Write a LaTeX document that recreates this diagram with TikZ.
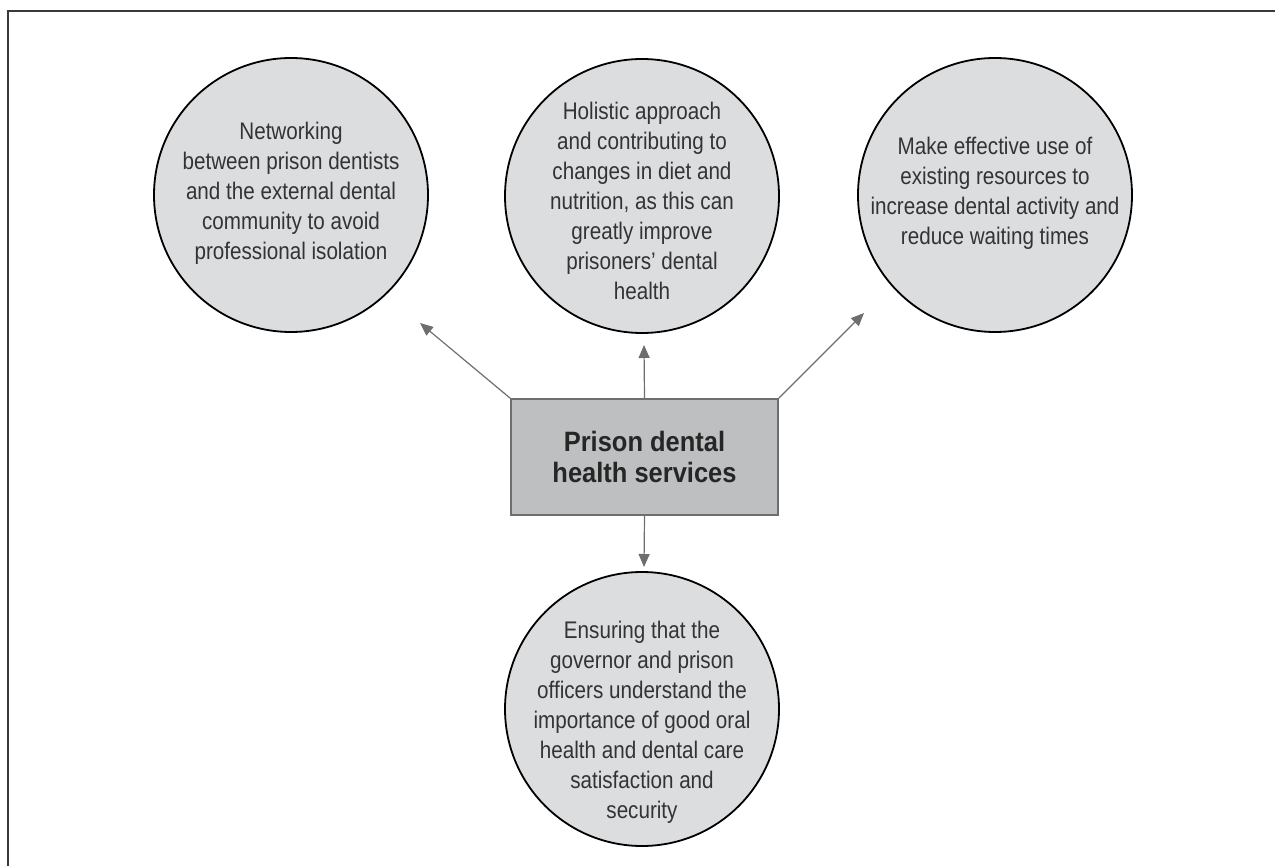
\documentclass[tikz,border=0pt]{standalone}
\usepackage{fontspec}
\setmainfont{Liberation Sans}[FakeStretch=0.86]
\newfontfamily\titlefont{Liberation Sans}[FakeStretch=0.91]
\usetikzlibrary{arrows.meta}
\definecolor{txt}{HTML}{333333}
\definecolor{circfill}{HTML}{DCDDDF}
\definecolor{boxfill}{HTML}{BEBFC1}
\definecolor{boxline}{HTML}{6E6E70}
\definecolor{arrcol}{HTML}{6D6E70}
\definecolor{framecol}{HTML}{3A3A3A}
\tikzset{
  bubble/.style={circle, draw=black, line width=0.9pt, fill=circfill, minimum size=137pt, inner sep=0pt},
  bubbletext/.style={align=center, text=txt, font=\fontsize{12}{15}\selectfont, inner sep=0pt},
  centrebox/.style={rectangle, draw=boxline, line width=0.8pt, fill=boxfill, minimum width=133.5pt, minimum height=58pt, align=center, text=black!85, font=\titlefont\bfseries\fontsize{14}{15.5}\selectfont},
  arr/.style={draw=arrcol, line width=0.6pt, -{Triangle[length=6.5pt,width=5.5pt]}, color=arrcol}
}
\begin{document}
\begin{tikzpicture}[x=0.5pt,y=-0.5pt]
\useasboundingbox (0,0) rectangle (1275,866);
\draw[framecol, line width=0.8pt] (8,866) -- (8,11) -- (1275,11);

\node[bubble] (cl) at (291,195) {};
\node[bubble] (cm) at (642,196) {};
\node[bubble] (cr) at (995,195) {};
\node[bubble] (cb) at (642,709) {};

\node[bubbletext] (tl) at (291,193) {Networking\\between prison dentists\\and the external dental\\community to avoid\\professional isolation};
\node[bubbletext] (tm) at (642,201) {Holistic approach\\and contributing to\\changes in diet and\\nutrition, as this can\\greatly improve\\prisoners’ dental\\health};
\node[bubbletext] (tr) at (995,193) {Make effective use of\\existing resources to\\increase dental activity and\\reduce waiting times};
\node[bubbletext] (tb) at (642,722) {Ensuring that the\\governor and prison\\officers understand the\\importance of good oral\\health and dental care\\satisfaction and\\security};

\node[centrebox] (box) at (644.5,457) {Prison dental\\health services};

\coordinate (tipl) at (420,323);
\coordinate (tipm) at (644,345);
\coordinate (tipr) at (864,313);
\coordinate (tipb) at (644,567);

\draw[arr] (box.north west) -- (tipl);
\draw[arr] (box.north) -- (tipm);
\draw[arr] (box.north east) -- (tipr);
\draw[arr] (box.south) -- (tipb);
\end{tikzpicture}
\end{document}
